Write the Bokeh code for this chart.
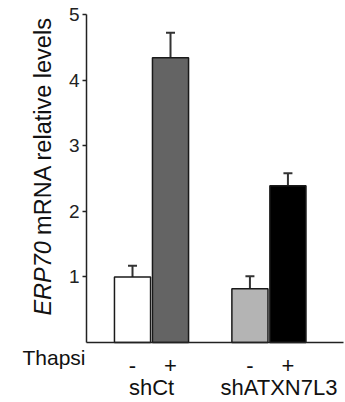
from bokeh.plotting import figure
from bokeh.models import Range1d, FixedTicker, Whisker, TeeHead, ColumnDataSource, Label
from bokeh.embed import file_html
from bokeh.resources import INLINE

# data
groups = ["shCt", "shATXN7L3"]
treatments = ["-", "+"]
values = [1.0, 4.34, 0.82, 2.39]
errors = [0.17, 0.38, 0.19, 0.19]
colors = ["#ffffff", "#646464", "#b4b4b4", "#000000"]
y_ticks = [1, 2, 3, 4, 5]
y_label_italic = "ERP70"
y_label_rest = "mRNA relative levels"
row_label = "Thapsi"

# layout (style)
GROUP_STEP = 3.09
BAR_W = 0.95
AXIS_X = -1.21        # x position of the value axis
X_END = 5.55          # right end of the baseline
label_offsets = [0, 10]

xs = []
tick_labels = {}
for gi, g in enumerate(groups):
    for ti, t in enumerate(treatments):
        x = gi * GROUP_STEP + ti
        xs.append(x)
        tick_labels[x] = t
group_centers = [gi * GROUP_STEP + 0.5 for gi in range(len(groups))]

src = ColumnDataSource(dict(x=xs, top=values, color=colors,
                            upper=[v + e for v, e in zip(values, errors)]))

p = figure(width=345, height=402, output_backend="svg", toolbar_location=None,
           x_range=Range1d(-3.474, 5.605), y_range=Range1d(-0.915, 5.213),
           min_border=0)
p.outline_line_color = None
p.grid.grid_line_color = None
p.background_fill_color = "white"
p.border_fill_color = "white"

p.vbar(x="x", top="top", width=BAR_W, bottom=0, fill_color="color",
       line_color="#1a1a1a", line_width=1.5, source=src)

w = Whisker(base="x", lower="top", upper="upper", source=src,
            line_color="#333333", line_width=2,
            upper_head=TeeHead(size=9, line_color="#333333", line_width=2),
            lower_head=None)
p.add_layout(w)

# y axis
ya = p.yaxis[0]
ya.fixed_location = AXIS_X
ya.bounds = (0, 5)
ya.ticker = FixedTicker(ticks=y_ticks)
ya.minor_tick_line_color = None
ya.major_tick_in = 0
ya.major_tick_out = 4
ya.major_tick_line_color = "#222222"
ya.major_tick_line_width = 1.5
ya.axis_line_color = "#222222"
ya.axis_line_width = 1.5
ya.major_label_text_font = "Liberation Sans"
ya.major_label_text_font_size = "19px"
ya.major_label_text_color = "#222222"
ya.major_label_standoff = 3

# x axis (baseline)
xa = p.xaxis[0]
xa.fixed_location = 0
xa.bounds = (AXIS_X, X_END)
xa.ticker = FixedTicker(ticks=xs)
xa.major_label_overrides = {x: t for x, t in tick_labels.items()}
xa.major_tick_line_color = None
xa.minor_tick_line_color = None
xa.axis_line_color = "#222222"
xa.axis_line_width = 1.5
xa.major_label_text_font = "Liberation Sans"
xa.major_label_text_font_size = "22px"
xa.major_label_text_color = "#111111"
xa.major_label_standoff = 10

# group labels
for gc, g, off in zip(group_centers, groups, label_offsets):
    p.add_layout(Label(x=gc, y=-0.68, text=g, x_offset=off,
                       text_align="center", text_baseline="middle",
                       text_font="Liberation Sans", text_font_size="22px",
                       text_color="#111111"))

p.add_layout(Label(x=-2.895, y=-0.23, text=row_label,
                   text_align="left", text_baseline="middle",
                   text_font="Liberation Sans", text_font_size="21px",
                   text_color="#111111"))

# y-axis title (italic gene name + regular rest)
p.add_layout(Label(x=-2.368, y=0.41, text=y_label_italic,
                   angle=1.5708, text_align="left", text_baseline="middle",
                   text_font="Liberation Sans", text_font_style="italic",
                   text_font_size="23.5px", text_color="#111111"))
p.add_layout(Label(x=-2.368, y=1.64, text=y_label_rest,
                   angle=1.5708, text_align="left", text_baseline="middle",
                   text_font="Liberation Sans", text_font_size="23.5px",
                   text_color="#111111"))

open("out.html", "w").write(file_html(p, INLINE))
